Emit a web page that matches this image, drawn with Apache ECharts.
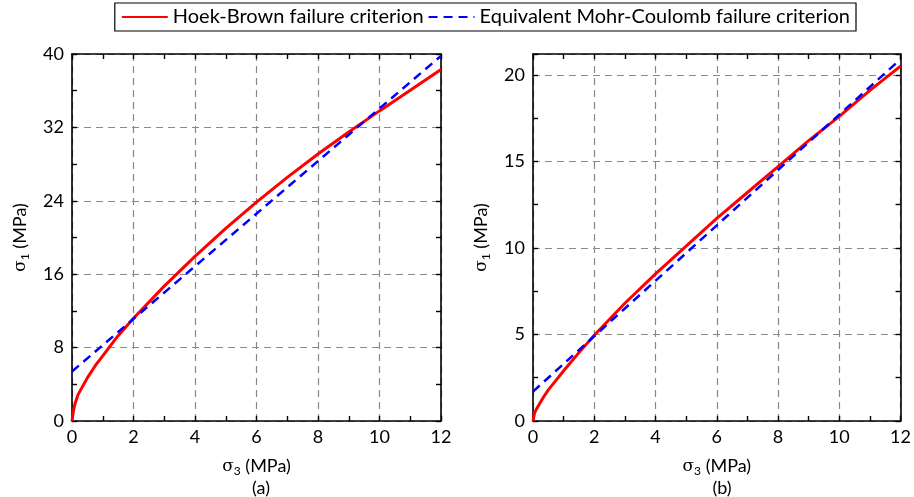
<!DOCTYPE html>
<html>
<head>
<meta charset="utf-8">
<script src="https://cdn.jsdelivr.net/npm/echarts@6/dist/echarts.min.js"></script>
<style>
html, body { margin: 0; padding: 0; background: #fff; }
#chart { width: 914px; height: 497px; }
</style>
</head>
<body>
<div id="chart"></div>
<script>
// sigma3 (MPa) sample points
const sigma3 = [0, 0.05, 0.1, 0.2, 0.35, 0.5, 0.75, 1, 1.5, 2, 3, 4, 5, 6, 7, 8, 9, 10, 11, 12]
// (a) Hoek-Brown sigma1
const hbA = [0, 1.2, 1.9, 2.9, 3.8, 4.7, 6.0, 7.1, 9.3, 11.2, 14.7, 17.95, 21.0, 23.85, 26.55, 29.1, 31.5, 33.8, 36.05, 38.3]
// (b) Hoek-Brown sigma1
const hbB = [0, 0.45, 0.65, 0.95, 1.4, 1.8, 2.35, 2.9, 3.95, 4.95, 6.8, 8.5, 10.1, 11.7, 13.2, 14.7, 16.2, 17.6, 19.1, 20.5]
// equivalent Mohr-Coulomb lines (end points)
const mcX = [0, 12]
const mcA = [5.4, 39.8]
const mcB = [1.7, 20.9]

const xTicks = { min: 0, max: 12, interval: 2 }
const yTicksA = { min: 0, max: 40, interval: 8 }
const yTicksB = { min: 0, max: 21.2, interval: 5 }

const FONT = 'Lato'
const gridLine = { show: true, lineStyle: { color: '#888', type: [7, 5], width: 1.2 } }
const axisLine = { show: true, onZero: false, lineStyle: { color: '#000', width: 1.6 } }
const tick = { show: true, inside: true, length: 5, lineStyle: { color: '#000', width: 1.4 } }
const minor = { show: true, splitNumber: 2, length: 5, lineStyle: { color: '#000', width: 1.4 } }
const nameRich = {
  s: { fontFamily: FONT, fontSize: 18, color: '#000' },
  g: { fontFamily: 'DejaVu Serif', fontSize: 17, color: '#000' },
  sub: { fontFamily: FONT, fontSize: 12, color: '#000', padding: [9, 0, 0, 0] }
}

function pairs(xs, ys) {
  return xs.map((x, i) => [x, ys[i]])
}

function xAxes(gi) {
  return [
    {
      type: 'value', gridIndex: gi, position: 'bottom', ...xTicks,
      name: '{g|σ}{sub|3}{s| (MPa)}', nameLocation: 'middle', nameGap: 35,
      nameTextStyle: { rich: nameRich },
      axisLine: axisLine, axisTick: tick, minorTick: minor, splitLine: gridLine,
      axisLabel: { color: '#000', fontFamily: FONT, fontSize: 18, margin: 7 }
    },
    {
      type: 'value', gridIndex: gi, position: 'top', ...xTicks,
      axisLine: axisLine, axisTick: tick, minorTick: minor,
      splitLine: { show: false }, axisLabel: { show: false }
    }
  ]
}

function yAxes(gi, t) {
  return [
    {
      type: 'value', gridIndex: gi, position: 'left', ...t,
      name: '{g|σ}{sub|1}{s| (MPa)}', nameLocation: 'middle', nameGap: 41, nameRotate: 90,
      nameTextStyle: { rich: nameRich },
      axisLine: axisLine, axisTick: tick, minorTick: minor, splitLine: gridLine,
      axisLabel: {
        color: '#000', fontFamily: FONT, fontSize: 18, margin: 8,
        formatter: v => (Math.abs(v / t.interval - Math.round(v / t.interval)) < 1e-6 ? String(v) : '')
      }
    },
    {
      type: 'value', gridIndex: gi, position: 'right', ...t,
      axisLine: axisLine, axisTick: tick, minorTick: minor,
      splitLine: { show: false }, axisLabel: { show: false }
    }
  ]
}

const chart = echarts.init(document.getElementById('chart'))
chart.setOption({
  animation: false,
  backgroundColor: '#fff',
  textStyle: { fontFamily: FONT },
  legend: {
    top: 3, right: 58,
    itemWidth: 46, itemHeight: 14, itemGap: 4,
    padding: [4, 6],
    borderColor: '#000', borderWidth: 1.2,
    itemStyle: { opacity: 0, color: 'rgba(0,0,0,0)', borderColor: 'rgba(0,0,0,0)', borderWidth: 0 },
    textStyle: { color: '#000', fontSize: 20, fontFamily: FONT },
    data: ['Hoek-Brown failure criterion', 'Equivalent Mohr-Coulomb failure criterion']
  },
  title: [
    { text: '(a)', left: 256, top: 474, textAlign: 'center', textStyle: { fontSize: 18, fontWeight: 'normal', color: '#000', fontFamily: FONT } },
    { text: '(b)', left: 717, top: 474, textAlign: 'center', textStyle: { fontSize: 18, fontWeight: 'normal', color: '#000', fontFamily: FONT } }
  ],
  grid: [
    { left: 72, right: 473, top: 54, bottom: 76 },
    { left: 533, right: 13, top: 54, bottom: 76 }
  ],
  xAxis: [...xAxes(0), ...xAxes(1)],
  yAxis: [...yAxes(0, yTicksA), ...yAxes(1, yTicksB)],
  series: [
    {
      name: 'Hoek-Brown failure criterion', type: 'line', xAxisIndex: 0, yAxisIndex: 0,
      data: pairs(sigma3, hbA), showSymbol: false, symbol: 'none',
      lineStyle: { color: '#ff0000', width: 3 }, itemStyle: { color: '#ff0000' }, z: 3
    },
    {
      name: 'Equivalent Mohr-Coulomb failure criterion', type: 'line', xAxisIndex: 0, yAxisIndex: 0,
      data: pairs(mcX, mcA), showSymbol: false, symbol: 'none',
      lineStyle: { color: '#0000ff', width: 2.5, type: [9, 6] }, itemStyle: { color: '#0000ff' }, z: 4
    },
    {
      name: 'Hoek-Brown failure criterion', type: 'line', xAxisIndex: 2, yAxisIndex: 2,
      data: pairs(sigma3, hbB), showSymbol: false, symbol: 'none',
      lineStyle: { color: '#ff0000', width: 3 }, itemStyle: { color: '#ff0000' }, z: 3
    },
    {
      name: 'Equivalent Mohr-Coulomb failure criterion', type: 'line', xAxisIndex: 2, yAxisIndex: 2,
      data: pairs(mcX, mcB), showSymbol: false, symbol: 'none',
      lineStyle: { color: '#0000ff', width: 2.5, type: [9, 6] }, itemStyle: { color: '#0000ff' }, z: 4
    }
  ]
})
</script>
</body>
</html>
